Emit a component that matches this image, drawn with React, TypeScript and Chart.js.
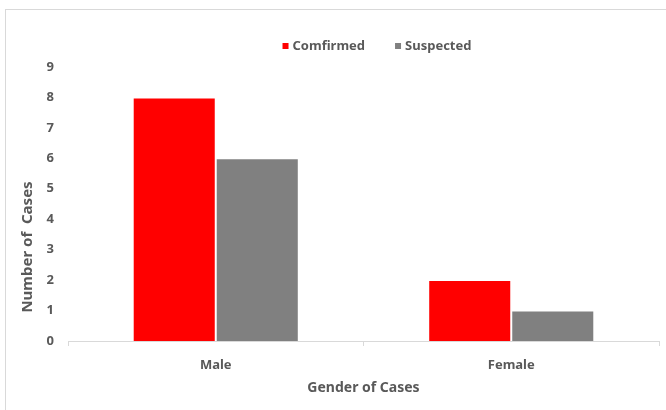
import React, { useEffect, useRef } from "react";
import { Chart, registerables } from "chart.js";

Chart.register(...registerables);

const categories = ["Male", "Female"];
const confirmed = [8, 2];
const suspected = [6, 1];
const seriesNames = ["Comfirmed", "Suspected"];
const seriesColors = ["#ff0000", "#808080"];
const yTicksMax = 9;
const xTitle = "Gender of Cases";
const yTitle = "Number of  Cases";

const FONT = "'Noto Sans', sans-serif";
const TEXT = "#595959";
const LINE = "#d9d9d9";

const overlay = {
  id: "overlay",
  afterDraw(chart: any) {
    const ctx = chart.ctx;
    const area = chart.chartArea;
    ctx.save();
    ctx.fillStyle = TEXT;
    ctx.font = `bold 13px ${FONT}`;
    // legend
    const items = chart.data.datasets.map((d: any) => ({ label: d.label, color: d.backgroundColor }));
    const box = 6;
    const gapBox = 4;
    const gapItem = 30;
    const widths = items.map((it: any) => box + gapBox + ctx.measureText(it.label).width);
    const total = widths.reduce((a: number, b: number) => a + b, 0) + gapItem * (items.length - 1);
    let x = 377 - total / 2;
    const ly = 46;
    ctx.textBaseline = "middle";
    ctx.textAlign = "left";
    items.forEach((it: any, i: number) => {
      ctx.fillStyle = it.color;
      ctx.fillRect(x, ly - box / 2, box, box);
      ctx.fillStyle = TEXT;
      ctx.fillText(it.label, x + box + gapBox, ly + 0.5);
      x += widths[i] + gapItem;
    });
    // x title
    ctx.textAlign = "center";
    ctx.font = `bold 14px ${FONT}`;
    ctx.fillText(xTitle, (area.left + area.right) / 2, 388);
    // y title
    ctx.font = `bold 15px ${FONT}`;
    ctx.translate(28, 247);
    ctx.rotate(-Math.PI / 2);
    ctx.fillText(yTitle, 0, 0);
    ctx.restore();
  },
};

export default function App() {
  const ref = useRef<HTMLCanvasElement | null>(null);
  useEffect(() => {
    if (!ref.current) return;
    const chart = new Chart(ref.current, {
      type: "bar",
      data: {
        labels: categories,
        datasets: [
          {
            label: seriesNames[0],
            data: confirmed,
            backgroundColor: seriesColors[0],
            borderColor: "rgba(255,255,255,0.8)",
            borderWidth: 1,
            barPercentage: 1,
            categoryPercentage: 0.562,
          },
          {
            label: seriesNames[1],
            data: suspected,
            backgroundColor: seriesColors[1],
            borderColor: "rgba(255,255,255,0.8)",
            borderWidth: 1,
            barPercentage: 1,
            categoryPercentage: 0.562,
          },
        ],
      },
      options: {
        animation: false,
        responsive: false,
        maintainAspectRatio: false,
        layout: { padding: { top: 67, right: 7, left: 0, bottom: 0 } },
        plugins: { legend: { display: false }, tooltip: { enabled: false } },
        scales: {
          x: {
            afterFit(scale: any) {
              scale.height = 69;
            },
            grid: {
              display: true,
              offset: true,
              drawOnChartArea: false,
              drawTicks: true,
              tickLength: 5,
              color: LINE,
            },
            border: { display: true, color: LINE },
            ticks: {
              color: TEXT,
              font: { family: FONT, size: 13, weight: "bold" },
              padding: 11,
            },
          },
          y: {
            min: 0,
            max: yTicksMax,
            afterFit(scale: any) {
              scale.width = 68;
            },
            grid: { display: false, drawTicks: false },
            border: { display: false },
            ticks: {
              stepSize: 1,
              color: TEXT,
              font: { family: FONT, size: 13, weight: "bold" },
              padding: 14,
            },
          },
        },
      },
      plugins: [overlay],
    });
    return () => chart.destroy();
  }, []);
  return (
    <div style={{ position: "fixed", left: 0, top: 0, width: 666, height: 410, background: "#fff" }}>
      <canvas ref={ref} width={666} height={410} style={{ position: "absolute", left: 0, top: 0 }} />
      <div
        style={{
          position: "absolute",
          left: 5,
          top: 9,
          width: 661,
          height: 401,
          borderTop: `1px solid ${LINE}`,
          borderLeft: `1px solid ${LINE}`,
          boxSizing: "border-box",
          pointerEvents: "none",
        }}
      />
    </div>
  );
}
